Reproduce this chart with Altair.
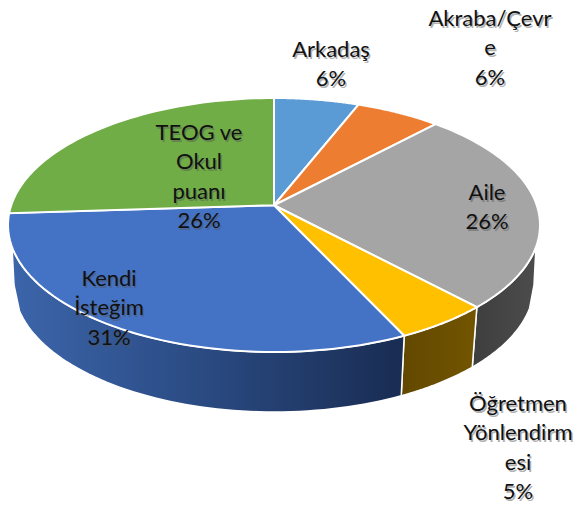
import math
import altair as alt

categories = ["Arkadaş", "Akraba/Çevre", "Aile", "Öğretmen Yönlendirmesi", "Kendi İsteğim", "TEOG ve Okul puanı"]
percent = [6, 6, 26, 5, 31, 26]
top_colors = ["#5b9bd5", "#ed7d31", "#a5a5a5", "#ffc000", "#4472c4", "#70ad47"]
wrapped = ["Arkadaş", "Akraba/Çevr\ne", "Aile", "Öğretmen\nYönlendirm\nesi", "Kendi\nİsteğim", "TEOG ve\nOkul\npuanı"]

# page coordinates minus the 8px page margin
PAGE = 8
CX, CY, RX, RY = 274 - PAGE, 225 - PAGE, 266, 127
BCY, BRX, BRY = 285 - PAGE, 260, 127
K = 0.855  # perspective foreshortening of the tilted disc
VIS_R, VIS_L = 100, 260


def ell_t(theta):
    if theta >= 360:
        return 360.0
    if theta == 180:
        return 180.0
    t = 2 * math.degrees(math.atan(K * math.tan(math.radians(theta / 2))))
    return t if t >= 0 else t + 360


def rim(t):
    a = math.radians(t)
    return [CX + RX * math.sin(a), CY - RY * math.cos(a)]


def base(t):
    a = math.radians(t)
    return [CX + BRX * math.sin(a), BCY - BRY * math.cos(a)]


def span(a, b, n=60):
    return [a + (b - a) * i / n for i in range(n + 1)]


def feature(ring):
    return {"type": "Feature", "properties": {}, "geometry": {"type": "Polygon", "coordinates": [ring + [ring[0]]]}}


projection = alt.Projection(type="identity", scale=1, translate=[0, 0])


def shape(ring, **kw):
    return alt.Chart(alt.Data(values=[feature(ring)])).mark_geoshape(**kw).project(**projection.to_dict())


bounds = [0]
for p in percent:
    bounds.append(bounds[-1] + p)
angles = [ell_t(b * 3.6) for b in bounds]
apex = [CX, CY - RY * math.cos(math.radians(ell_t(90)))]

side_fill = {
    2: alt.Gradient(gradient="linear", x1=1, x2=0, y1=0, y2=0,
                    stops=[alt.GradientStop(offset=0, color="#4c4c4c"), alt.GradientStop(offset=1, color="#3e3e3e")]),
    3: alt.Gradient(gradient="linear", x1=0, x2=1, y1=0, y2=0,
                    stops=[alt.GradientStop(offset=0, color="#624800"), alt.GradientStop(offset=1, color="#735500")]),
    4: alt.Gradient(gradient="linear", x1=0, x2=1, y1=0, y2=0,
                    stops=[alt.GradientStop(offset=0, color="#3c65aa"), alt.GradientStop(offset=0.35, color="#2f528e"),
                           alt.GradientStop(offset=1, color="#192c52")]),
}
side_span = {2: (VIS_R, angles[3], 90), 3: (angles[3], angles[4], None), 4: (angles[4], VIS_L, 270)}

layers = []
for i, (a, b, end) in side_span.items():
    ts = span(a, b)
    bottom = [base(t) for t in reversed(ts)]
    if end == 90:
        bottom[-1] = base(90)
    if end == 270:
        bottom[0] = base(270)
    ring = [rim(t) for t in ts] + bottom
    layers.append(shape(ring, fill=side_fill[i], stroke="white", strokeWidth=1.5))

for i, color in enumerate(top_colors):
    ring = [apex] + [rim(t) for t in span(angles[i], angles[i + 1])]
    layers.append(shape(ring, fill=color, stroke="white", strokeWidth=2))

label_xy = [(331, 50), (490, 19), (487, 193), (518, 404), (109, 279), (199, 133)]
for text, p, (x, y) in zip(wrapped, percent, label_xy):
    data = alt.Data(values=[{"label": f"{text}\n{p}%"}])
    common = dict(font="Lato", fontSize=22, lineHeight=29.3, lineBreak="\n", align="center", baseline="line-top")
    layers.append(alt.Chart(data).mark_text(x=x - PAGE + 1.5, y=y - PAGE - 12, color="#555555", opacity=0.45, **common)
                  .encode(text="label:N"))
    layers.append(alt.Chart(data).mark_text(x=x - PAGE, y=y - PAGE - 14, color="#111111", **common)
                  .encode(text="label:N"))

chart = alt.layer(*layers).properties(
    width=566, height=495, padding=0, background="white",
    autosize=alt.AutoSizeParams(type="none"),
).configure_view(stroke=None)

chart.save("out.html", embed_options={"renderer": "svg", "actions": False})
